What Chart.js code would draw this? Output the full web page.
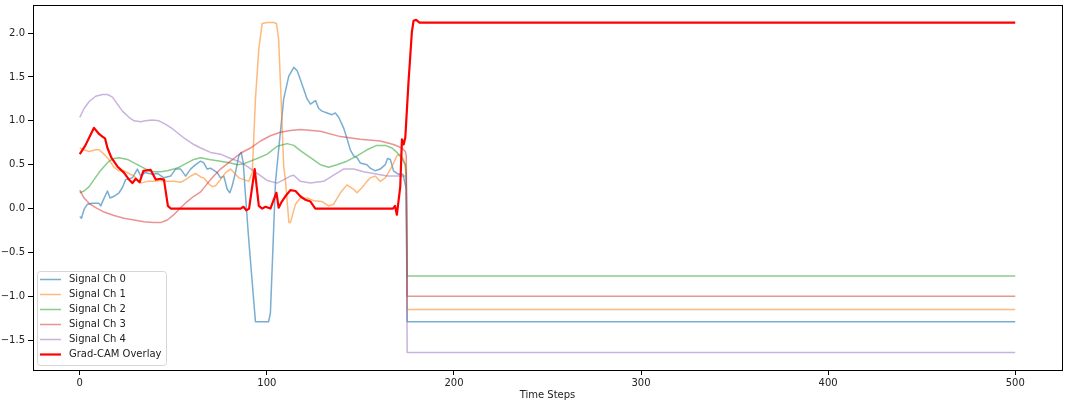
<!DOCTYPE html>
<html>
<head>
<meta charset="utf-8">
<script src="https://cdn.jsdelivr.net/npm/chart.js@4/dist/chart.umd.min.js"></script>
<style>
  html, body { margin: 0; padding: 0; background: #fff; }
  canvas { display: block; }
</style>
</head>
<body>
<canvas id="chart" width="1065" height="402"></canvas>
<script>
// values (time step, value)
const xTicks = [0, 100, 200, 300, 400, 500];
const yTicks = [-1.5, -1.0, -0.5, 0.0, 0.5, 1.0, 1.5, 2.0];

const ch0X = [0, 0.9, 2.3, 4.1, 6.8, 10.3, 11.2, 12.4, 14.8, 16.2, 18.3, 21, 22.8, 24.5, 28.1, 30.8, 32.6, 34.7, 38.8, 41.5, 45, 48.6, 51.2, 53.9, 56.6, 59.2, 61.9, 64.6, 66.3, 68.1, 69.9, 73.5, 75.2, 77, 78.8, 80.2, 81.5, 83.2, 85, 86.3, 87.4, 88.6, 90.3, 93.9, 100.9, 101.9, 104.6, 106.3, 109, 111.7, 114.4, 116.2, 117.9, 119.7, 121.5, 123.3, 126, 127.7, 129.5, 132.2, 134.8, 136.6, 138.4, 141, 142.8, 144.6, 146.4, 148.2, 149.9, 153.5, 155.3, 157.9, 160.6, 163.3, 164.5, 166, 167.7, 170.4, 172.7, 173.4, 174.5, 175, 500];
const ch0Y = [-0.09, -0.11, -0.01, 0.05, 0.06, 0.06, 0.03, 0.09, 0.20, 0.12, 0.14, 0.18, 0.24, 0.33, 0.35, 0.45, 0.37, 0.41, 0.39, 0.40, 0.35, 0.37, 0.45, 0.45, 0.37, 0.45, 0.50, 0.54, 0.52, 0.45, 0.46, 0.41, 0.35, 0.37, 0.22, 0.18, 0.26, 0.41, 0.60, 0.64, 0.52, 0.14, -0.35, -1.29, -1.29, -1.19, 0.30, 0.67, 1.25, 1.51, 1.61, 1.57, 1.47, 1.36, 1.25, 1.19, 1.23, 1.14, 1.11, 1.09, 1.07, 1.09, 1.04, 0.92, 0.80, 0.67, 0.60, 0.58, 0.52, 0.50, 0.46, 0.43, 0.45, 0.50, 0.57, 0.56, 0.43, 0.39, 0.39, 0.33, 0.22, -1.29, -1.29];

const ch1X = [0, 2.3, 5, 8.5, 10.3, 13, 15.6, 18.3, 21, 23.6, 26.3, 29, 32.6, 36.1, 39.6, 43.2, 46.8, 50.3, 53.9, 56.6, 59.2, 61.9, 64.6, 66.3, 69, 70.8, 72.6, 75.2, 77.9, 80.6, 82.4, 85, 87.7, 90.3, 92.2, 93.9, 95.7, 97.5, 100.2, 103.7, 105.1, 106.3, 107.6, 109, 109.9, 111.8, 112.6, 115.3, 117.9, 121.5, 125, 129.5, 133, 135.7, 139.3, 142.8, 146.4, 148.2, 150.9, 153.5, 155.3, 157.9, 160.6, 163.3, 166.9, 169.5, 171.3, 173.1, 174, 174.5, 175, 500];
const ch1Y = [0.69, 0.67, 0.65, 0.67, 0.67, 0.62, 0.56, 0.47, 0.43, 0.43, 0.40, 0.37, 0.29, 0.31, 0.31, 0.32, 0.31, 0.31, 0.30, 0.33, 0.37, 0.40, 0.36, 0.35, 0.28, 0.25, 0.26, 0.33, 0.41, 0.45, 0.41, 0.35, 0.33, 0.31, 0.41, 1.25, 1.82, 2.11, 2.12, 2.12, 2.11, 1.93, 1.25, 0.48, 0.33, -0.16, -0.16, 0.05, 0.12, 0.12, 0.09, 0.08, 0.03, 0.05, 0.18, 0.27, 0.22, 0.18, 0.24, 0.31, 0.35, 0.37, 0.31, 0.35, 0.48, 0.60, 0.62, 0.56, 0.48, 0.30, -1.15, -1.15];

const ch2X = [0, 2.3, 5, 7.6, 10.3, 13, 15.6, 18.3, 21, 25.5, 29, 32.6, 36.1, 39.6, 43.2, 46.8, 50.3, 53.9, 57.4, 61, 64.6, 69.2, 75.2, 80.6, 84.2, 87.7, 91.2, 94.8, 100.2, 105.5, 110.8, 114.4, 117.9, 123.3, 128.6, 133, 137.5, 142.8, 148.2, 153.5, 158.8, 163.3, 166.9, 169.5, 172.2, 174, 174.5, 175, 500];
const ch2Y = [0.18, 0.20, 0.25, 0.33, 0.41, 0.48, 0.54, 0.57, 0.58, 0.56, 0.52, 0.48, 0.44, 0.42, 0.42, 0.43, 0.45, 0.48, 0.52, 0.56, 0.58, 0.56, 0.54, 0.52, 0.50, 0.51, 0.54, 0.57, 0.62, 0.71, 0.74, 0.72, 0.66, 0.58, 0.50, 0.47, 0.50, 0.54, 0.60, 0.67, 0.72, 0.72, 0.69, 0.64, 0.57, 0.50, 0.40, -0.77, -0.77];

const ch3X = [0, 2.3, 5, 8.5, 13, 18.3, 23.6, 29, 34.3, 39.6, 43.2, 46.8, 50.3, 53.9, 57.4, 61, 64.6, 69.9, 75.2, 80.6, 85.9, 91.2, 96.6, 101.9, 107.2, 112.6, 117.9, 128.6, 139.3, 149.9, 160.6, 167.7, 172.2, 174, 174.5, 175, 500];
const ch3Y = [0.21, 0.12, 0.06, 0.01, -0.04, -0.08, -0.11, -0.13, -0.15, -0.16, -0.16, -0.13, -0.07, 0.01, 0.08, 0.14, 0.19, 0.33, 0.45, 0.54, 0.63, 0.69, 0.77, 0.83, 0.87, 0.89, 0.90, 0.88, 0.82, 0.79, 0.77, 0.73, 0.69, 0.65, 0.60, -1.00, -1.00];

const ch4X = [0, 2.3, 5, 8.5, 12.1, 14.8, 17.5, 20.1, 22.8, 26.3, 29, 32.6, 35.2, 38.8, 42.3, 45.9, 49.5, 53, 56.6, 61, 64.6, 69.9, 75.2, 80.6, 85.9, 89.5, 94.8, 100.2, 105.5, 109.1, 112.6, 114.4, 117.9, 123.3, 130.4, 135.7, 141, 146.4, 151.7, 157, 164.2, 172.2, 174.5, 175, 500];
const ch4Y = [1.04, 1.14, 1.22, 1.28, 1.30, 1.30, 1.27, 1.19, 1.11, 1.04, 1.00, 0.99, 1.00, 1.01, 1.00, 0.96, 0.91, 0.85, 0.79, 0.73, 0.69, 0.64, 0.62, 0.57, 0.53, 0.48, 0.40, 0.32, 0.29, 0.33, 0.37, 0.38, 0.31, 0.29, 0.31, 0.38, 0.45, 0.45, 0.42, 0.40, 0.37, 0.37, 0.37, -1.64, -1.64];

const camX = [0, 3, 7.6, 10.3, 12.1, 13.5, 14.8, 16.9, 20.1, 23.6, 26.3, 28.1, 29.9, 32, 34, 37.9, 40.6, 43.2, 45, 47.1, 48.6, 86, 87.5, 89, 90.5, 93.5, 95.7, 97.5, 99.3, 101.9, 105.1, 106.3, 108, 109.9, 112.6, 115.3, 117.9, 120.6, 123.3, 125.9, 167.4, 168.5, 169.5, 171.3, 172.2, 173.1, 174, 175.7, 177.5, 178.4, 179.8, 181.6, 500];
const camY = [0.62, 0.72, 0.92, 0.85, 0.82, 0.80, 0.69, 0.58, 0.48, 0.41, 0.33, 0.29, 0.34, 0.30, 0.43, 0.44, 0.33, 0.34, 0.33, 0.03, 0.0, 0.0, 0.02, -0.02, 0.0, 0.45, 0.03, 0.0, 0.02, 0.0, 0.18, 0.01, 0.08, 0.14, 0.21, 0.20, 0.14, 0.10, 0.08, 0.0, 0.0, 0.03, -0.07, 0.25, 0.79, 0.73, 0.81, 1.44, 2.01, 2.14, 2.15, 2.12, 2.12];

const FONT = 'DejaVu Sans';

function points(xs, ys) {
    return xs.map((x, i) => ({ x: x, y: ys[i] }));
}

function fmtY(v) {
    const s = Math.abs(v).toFixed(1);
    return v < 0 ? '\u2212' + s : s;
}

// matplotlib-like frame and legend box inside the axes
const framePlugin = {
    id: 'frame',
    afterDatasetsDraw(chart) {
        const { ctx, chartArea: a } = chart;
        ctx.save();
        ctx.strokeStyle = '#000';
        ctx.lineWidth = 1;
        ctx.strokeRect(Math.round(a.left) + 0.5, Math.round(a.top) + 0.5,
            Math.round(a.right - a.left), Math.round(a.bottom - a.top));
        ctx.restore();
    },
    afterDraw(chart) {
        const { ctx, chartArea: a } = chart;
        const sets = chart.data.datasets;
        const bx = a.left + 4, bw = 129, bh = 94;
        const by = a.bottom - 5 - bh;
        ctx.save();
        ctx.beginPath();
        ctx.roundRect(bx + 0.5, by + 0.5, bw, bh, 3);
        ctx.fillStyle = 'rgba(255,255,255,0.8)';
        ctx.fill();
        ctx.strokeStyle = '#d6d6d6';
        ctx.lineWidth = 1;
        ctx.stroke();
        ctx.font = '10px "' + FONT + '"';
        ctx.textBaseline = 'middle';
        ctx.fillStyle = '#222';
        sets.forEach((ds, i) => {
            const y = by + 8.5 + i * 15;
            ctx.beginPath();
            ctx.moveTo(bx + 3, y);
            ctx.lineTo(bx + 24, y);
            ctx.strokeStyle = ds.borderColor;
            ctx.lineWidth = ds.borderWidth;
            ctx.stroke();
            ctx.fillText(ds.label, bx + 32, y);
        });
        ctx.restore();
    }
};

new Chart(document.getElementById('chart'), {
    type: 'line',
    data: {
        datasets: [
            { label: 'Signal Ch 0', data: points(ch0X, ch0Y), borderColor: 'rgba(31,119,180,0.6)', borderWidth: 1.5, order: 6 },
            { label: 'Signal Ch 1', data: points(ch1X, ch1Y), borderColor: 'rgba(255,127,14,0.55)', borderWidth: 1.5, order: 5 },
            { label: 'Signal Ch 2', data: points(ch2X, ch2Y), borderColor: 'rgba(44,160,44,0.55)', borderWidth: 1.5, order: 4 },
            { label: 'Signal Ch 3', data: points(ch3X, ch3Y), borderColor: 'rgba(214,39,40,0.5)', borderWidth: 1.5, order: 3 },
            { label: 'Signal Ch 4', data: points(ch4X, ch4Y), borderColor: 'rgba(148,103,189,0.5)', borderWidth: 1.5, order: 2 },
            { label: 'Grad-CAM Overlay', data: points(camX, camY), borderColor: '#ff0000', borderWidth: 2.2, order: 1 }
        ]
    },
    options: {
        responsive: false,
        animation: false,
        devicePixelRatio: 1,
        layout: { padding: { top: 5, right: 3, left: 0, bottom: 0 } },
        elements: {
            point: { radius: 0 },
            line: { tension: 0, borderCapStyle: 'butt', borderJoinStyle: 'round' }
        },
        plugins: {
            legend: { display: false },
            tooltip: { enabled: false }
        },
        scales: {
            x: {
                type: 'linear',
                min: -25,
                max: 525,
                afterBuildTicks: axis => { axis.ticks = xTicks.map(v => ({ value: v })); },
                afterFit: s => { s.height = 32; s.paddingLeft = 0; s.paddingRight = 0; },
                grid: { display: true, drawOnChartArea: false, drawTicks: true, tickLength: 5, color: '#000' },
                border: { display: true, color: '#000' },
                ticks: { color: '#222', font: { family: FONT, size: 10 }, padding: 2, maxRotation: 0 },
                title: { display: true, text: 'Time Steps', color: '#222', font: { family: FONT, size: 10 }, padding: { top: 0, bottom: 1 } }
            },
            y: {
                type: 'linear',
                min: -1.84,
                max: 2.32,
                afterBuildTicks: axis => { axis.ticks = yTicks.map(v => ({ value: v })); },
                afterFit: s => { s.width = 33; s.paddingTop = 0; s.paddingBottom = 0; },
                grid: { display: true, drawOnChartArea: false, drawTicks: true, tickLength: 5, color: '#000' },
                border: { display: true, color: '#000' },
                ticks: { color: '#222', font: { family: FONT, size: 10 }, padding: 3, callback: v => fmtY(v) }
            }
        }
    },
    plugins: [framePlugin]
});
</script>
</body>
</html>
